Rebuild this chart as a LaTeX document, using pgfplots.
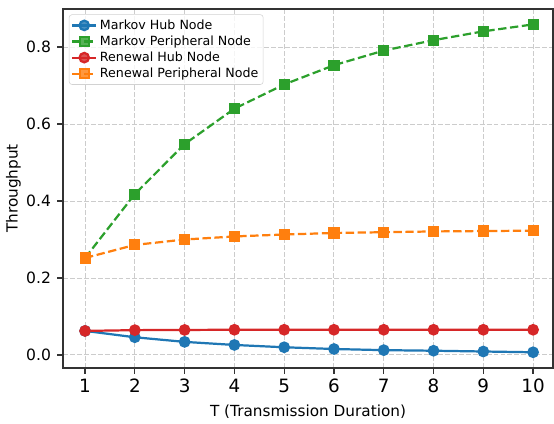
\documentclass[border=0pt]{standalone}
\usepackage{pgfplots}
\pgfplotsset{compat=1.18}
\usepackage{fontspec}
\setmainfont{DejaVu Sans}
\definecolor{c0}{HTML}{1F77B4}
\definecolor{c1}{HTML}{FF7F0E}
\definecolor{c2}{HTML}{2CA02C}
\definecolor{c3}{HTML}{D62728}
\begin{document}
\begin{tikzpicture}
\begin{axis}[
    scale only axis,
    width=352.8pt, height=258.5pt,
    xmin=0.558, xmax=10.40,
    ymin=-0.034, ymax=0.899,
    xtick={1,...,10},
    ytick={0,0.2,0.4,0.6,0.8},
    /pgf/number format/assume math mode=true,
    yticklabel style={/pgf/number format/fixed, /pgf/number format/fixed zerofill, /pgf/number format/precision=1, font=\fontsize{11.2}{13}\selectfont, xshift=-1pt},
    xticklabel style={font=\fontsize{13.2}{15}\selectfont},
    tick align=outside,
    tick pos=left,
    major tick length=4.2pt,
    every tick/.style={black!80, line width=0.9pt},
    axis line style={line width=0.9pt, black!80},
    xlabel={T (Transmission Duration)},
    ylabel={Throughput},
    label style={font=\fontsize{11}{13}\selectfont},
    xlabel style={yshift=-2pt},
    ylabel style={yshift=-3pt},
    grid=major,
    grid style={dash pattern=on 3.5pt off 1.5pt, gray!40, line width=0.7pt},
    legend pos=north west,
    legend style={font=\fontsize{9.1}{11}\selectfont, draw=gray!35, rounded corners=2pt, fill=white, fill opacity=0.8, text opacity=1, inner sep=1.5pt, row sep=-0.8pt, at={(0.012,0.985)}},
    legend cell align={left},
    every axis plot/.append style={line width=1.6pt},
]

\addplot[color=c0, mark=*, mark size=3.4pt] coordinates {
    (1,0.0625) (2,0.046) (3,0.034) (4,0.026) (5,0.020) (6,0.0155) (7,0.0125) (8,0.011) (9,0.009) (10,0.007)
};
\addplot[color=c2, dash pattern=on 6pt off 2.6pt, mark=square*, mark size=3.2pt, mark options={solid}] coordinates {
    (1,0.252) (2,0.418) (3,0.548) (4,0.640) (5,0.703) (6,0.753) (7,0.791) (8,0.818) (9,0.841) (10,0.859)
};
\addplot[color=c3, mark=*, mark size=3.4pt] coordinates {
    (1,0.0625) (2,0.0645) (3,0.065) (4,0.0655) (5,0.0655) (6,0.0655) (7,0.0655) (8,0.0655) (9,0.0655) (10,0.0655)
};
\addplot[color=c1, dash pattern=on 6pt off 2.6pt, mark=square*, mark size=3.2pt, mark options={solid}] coordinates {
    (1,0.252) (2,0.286) (3,0.300) (4,0.308) (5,0.313) (6,0.317) (7,0.319) (8,0.321) (9,0.322) (10,0.323)
};

\legend{Markov Hub Node, Markov Peripheral Node, Renewal Hub Node, Renewal Peripheral Node}
\end{axis}
\path ([shift={(-45.4pt,-38.2pt)}]current axis.south west) rectangle ([shift={(0.7pt,6.5pt)}]current axis.north east);
\end{tikzpicture}
\end{document}
